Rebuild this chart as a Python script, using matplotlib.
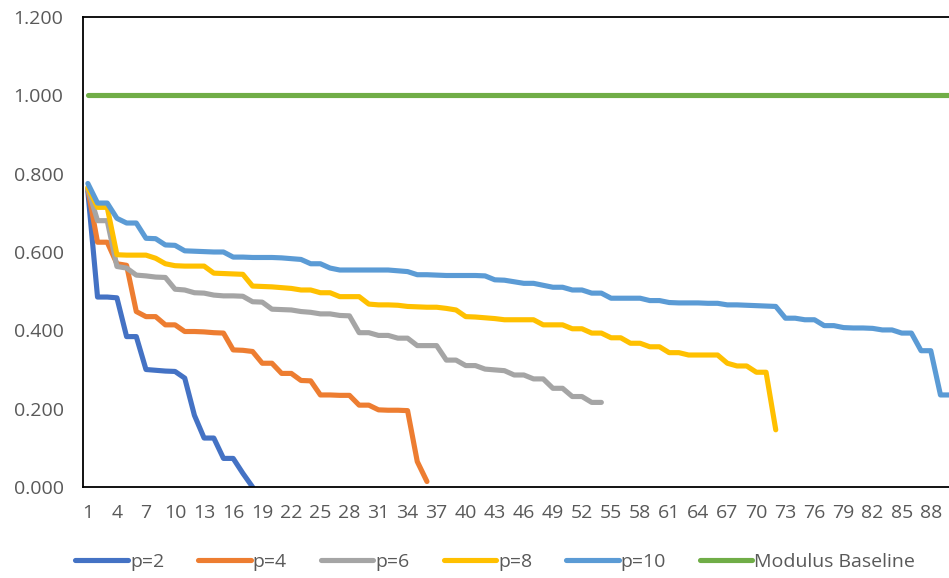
import matplotlib.pyplot as plt
import numpy as np

plt.rcParams["font.family"] = ["Open Sans", "DejaVu Sans"]

# ratio to the modulus baseline, one value per step
p2 = [0.755, 0.485, 0.485, 0.483, 0.384, 0.384, 0.300, 0.298, 0.296, 0.295,
      0.278, 0.183, 0.125, 0.125, 0.073, 0.073, 0.035, 0.000]
p4 = [0.760, 0.625, 0.625, 0.570, 0.566, 0.448, 0.435, 0.435, 0.414, 0.414,
      0.397, 0.397, 0.396, 0.394, 0.393, 0.350, 0.349, 0.346, 0.316, 0.316,
      0.290, 0.290, 0.272, 0.271, 0.235, 0.235, 0.234, 0.234, 0.209, 0.209,
      0.197, 0.196, 0.196, 0.195, 0.065, 0.014]
p6 = [0.762, 0.680, 0.680, 0.563, 0.559, 0.541, 0.539, 0.536, 0.535, 0.505,
      0.503, 0.496, 0.495, 0.490, 0.488, 0.488, 0.487, 0.473, 0.472, 0.454,
      0.453, 0.452, 0.448, 0.446, 0.442, 0.442, 0.438, 0.437, 0.394, 0.394,
      0.387, 0.387, 0.380, 0.380, 0.361, 0.361, 0.361, 0.324, 0.324, 0.310,
      0.310, 0.301, 0.299, 0.297, 0.286, 0.286, 0.276, 0.276, 0.252, 0.252,
      0.231, 0.231, 0.216, 0.216]
p8 = [0.765, 0.714, 0.714, 0.593, 0.592, 0.592, 0.592, 0.584, 0.570, 0.565,
      0.564, 0.564, 0.564, 0.546, 0.545, 0.544, 0.543, 0.513, 0.512, 0.511,
      0.509, 0.507, 0.503, 0.503, 0.496, 0.496, 0.486, 0.486, 0.486, 0.467,
      0.465, 0.465, 0.464, 0.461, 0.460, 0.459, 0.459, 0.456, 0.452, 0.435,
      0.434, 0.432, 0.430, 0.427, 0.427, 0.427, 0.427, 0.414, 0.414, 0.414,
      0.404, 0.404, 0.393, 0.393, 0.381, 0.381, 0.367, 0.367, 0.358, 0.358,
      0.343, 0.343, 0.337, 0.337, 0.337, 0.337, 0.316, 0.309, 0.309, 0.293,
      0.293, 0.146]
p10 = [0.775, 0.725, 0.725, 0.686, 0.674, 0.674, 0.635, 0.634, 0.618, 0.617,
       0.603, 0.602, 0.601, 0.600, 0.600, 0.587, 0.587, 0.586, 0.586, 0.586,
       0.585, 0.583, 0.581, 0.570, 0.570, 0.559, 0.554, 0.554, 0.554, 0.554,
       0.554, 0.554, 0.552, 0.550, 0.542, 0.542, 0.541, 0.540, 0.540, 0.540,
       0.540, 0.539, 0.529, 0.528, 0.524, 0.520, 0.520, 0.515, 0.510, 0.510,
       0.503, 0.503, 0.495, 0.495, 0.482, 0.482, 0.482, 0.482, 0.476, 0.476,
       0.471, 0.470, 0.470, 0.470, 0.469, 0.469, 0.465, 0.465, 0.464, 0.463,
       0.462, 0.461, 0.431, 0.431, 0.427, 0.427, 0.412, 0.412, 0.407, 0.406,
       0.406, 0.405, 0.401, 0.401, 0.393, 0.393, 0.348, 0.348, 0.235, 0.235]
baseline = [1.0] * 90

series = [
    ("p=2", p2, "#4472C4"),
    ("p=4", p4, "#ED7D31"),
    ("p=6", p6, "#A5A5A5"),
    ("p=8", p8, "#FFC000"),
    ("p=10", p10, "#5B9BD5"),
    ("Modulus Baseline", baseline, "#70AD47"),
]

fig = plt.figure(figsize=(9.49, 5.78), dpi=100)
ax = fig.add_axes([83 / 949, 91 / 578, 872 / 949, 470 / 578])

for label, vals, color in series:
    x = np.arange(1, len(vals) + 1)
    ax.plot(x, vals, color=color, lw=3.7, label=label,
            solid_capstyle="round", solid_joinstyle="round")

ax.set_xlim(0.5, 90.5)
ax.set_ylim(0, 1.2)
ax.set_yticks(np.arange(0, 1.21, 0.2))
ax.set_yticklabels([f"{v:.3f}" for v in np.arange(0, 1.21, 0.2)])
xt = np.arange(1, 89, 3)
ax.set_xticks(xt)
ax.set_xticklabels([str(v) for v in xt])

ax.tick_params(axis="both", length=0, labelsize=14, labelcolor="#595959")
ax.tick_params(axis="y", pad=14)
ax.tick_params(axis="x", pad=12)
for s in ax.spines.values():
    s.set_color("black")
    s.set_linewidth(1.3)

fig.legend(loc="center", bbox_to_anchor=(0.522, 1 - 562 / 578), ncol=6,
           frameon=False, fontsize=14, handlelength=2.7, handletextpad=0.1,
           columnspacing=1.75, labelcolor="#595959")

fig.savefig("out.png", dpi=100)
